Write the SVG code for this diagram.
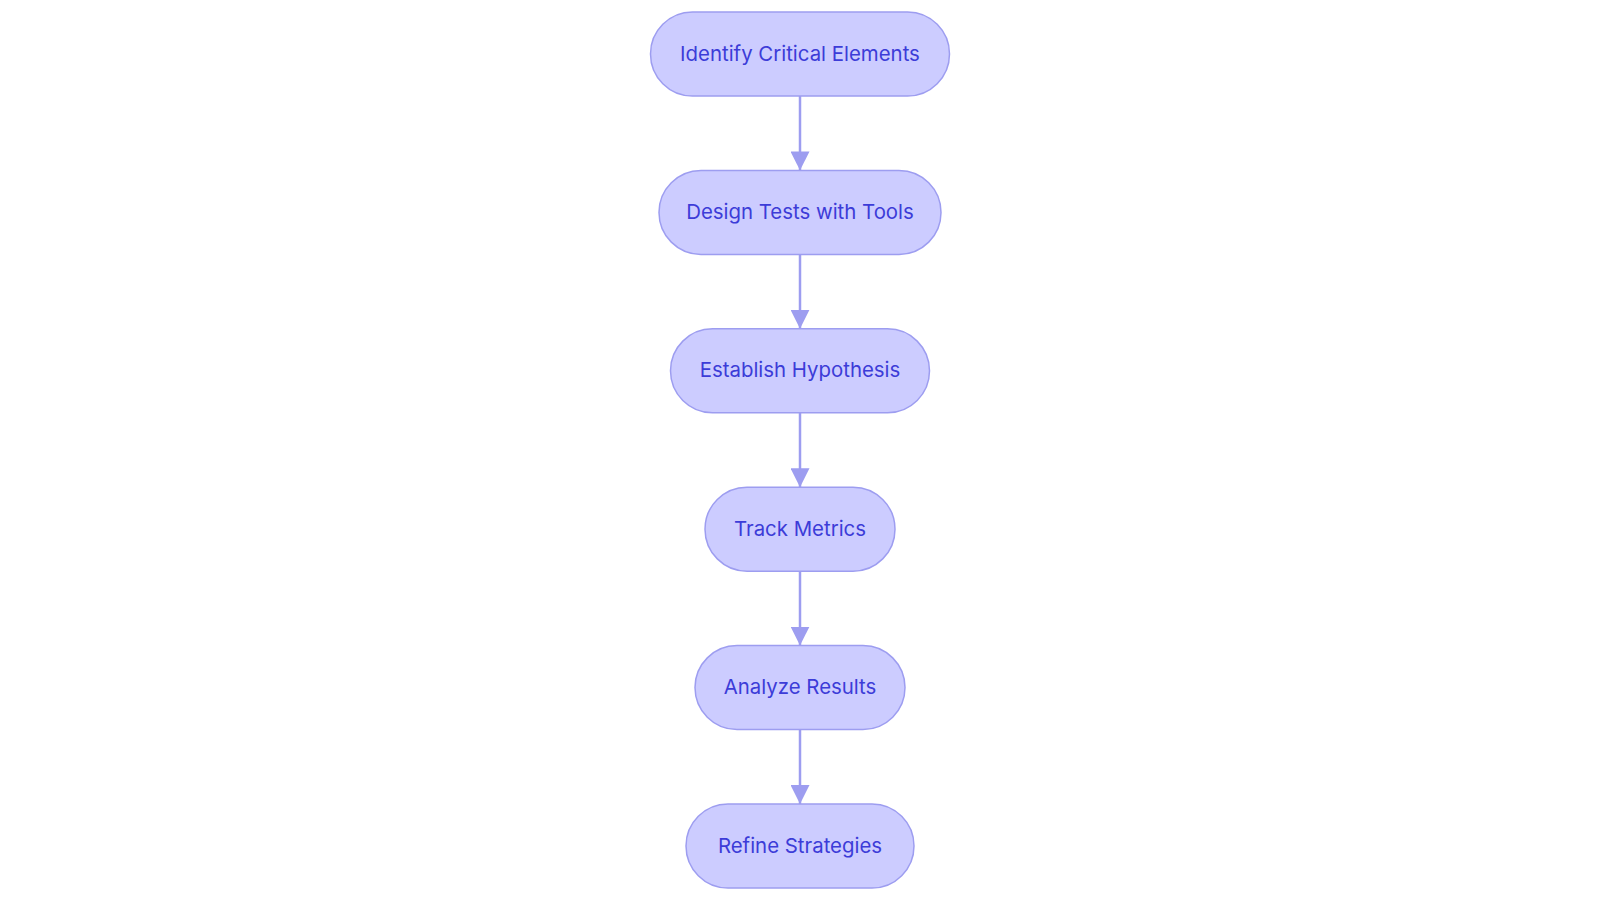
<svg xmlns="http://www.w3.org/2000/svg" width="1600" height="903" viewBox="0 0 1600 903">
<style>
.node rect{fill:#ccccff;stroke:#9d9df0;stroke-width:1.5}
.node text{font-family:Inter,"Noto Sans",sans-serif;font-size:20.4px;font-weight:400;fill:#3c3cd8;text-anchor:middle}
.edge{stroke:#9d9df0;stroke-width:2.5;fill:none}
</style>
<defs>
<marker id="ah" viewBox="0 0 10 10" refX="10" refY="5" markerWidth="19" markerHeight="19" markerUnits="userSpaceOnUse" orient="auto">
<path d="M0,0 L10,5 L0,10 z" fill="#9d9df0"/>
</marker>
</defs>
<g id="connectors">
<line class="edge" x1="800" y1="96" x2="800" y2="170.4" marker-end="url(#ah)"/>
<line class="edge" x1="800" y1="254.4" x2="800" y2="328.8" marker-end="url(#ah)"/>
<line class="edge" x1="800" y1="412.8" x2="800" y2="487.2" marker-end="url(#ah)"/>
<line class="edge" x1="800" y1="571.2" x2="800" y2="645.6" marker-end="url(#ah)"/>
<line class="edge" x1="800" y1="729.6" x2="800" y2="804" marker-end="url(#ah)"/>
</g>
<g id="n1" class="node"><rect x="650.5" y="12" width="299" height="84" rx="42" ry="42"/><text x="800" y="60.5">Identify Critical Elements</text></g>
<g id="n2" class="node"><rect x="659" y="170.4" width="282" height="84" rx="42" ry="42"/><text x="800" y="218.9">Design Tests with Tools</text></g>
<g id="n3" class="node"><rect x="670.5" y="328.8" width="259" height="84" rx="42" ry="42"/><text x="800" y="377.3">Establish Hypothesis</text></g>
<g id="n4" class="node"><rect x="705" y="487.2" width="190" height="84" rx="42" ry="42"/><text x="800" y="535.7">Track Metrics</text></g>
<g id="n5" class="node"><rect x="695" y="645.6" width="210" height="84" rx="42" ry="42"/><text x="800" y="694.1">Analyze Results</text></g>
<g id="n6" class="node"><rect x="686" y="804" width="228" height="84" rx="42" ry="42"/><text x="800" y="852.5">Refine Strategies</text></g>
</svg>
